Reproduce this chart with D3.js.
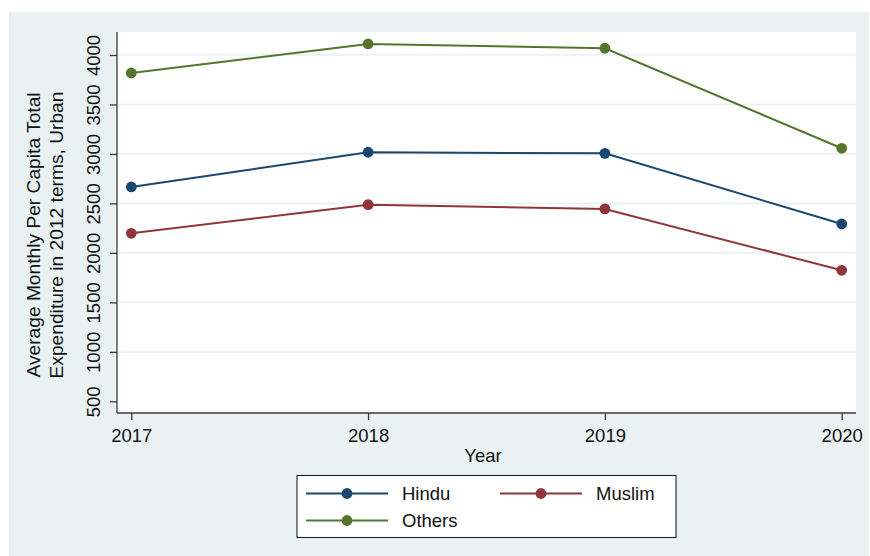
<!DOCTYPE html>
<html>
<head>
<meta charset="utf-8">
<script src="https://cdn.jsdelivr.net/npm/d3@7"></script>
<style>
  html, body { margin: 0; padding: 0; background: #ffffff; }
  svg { display: block; font-family: "Liberation Sans", Arial, sans-serif; }
</style>
</head>
<body>
<svg id="chart" width="870" height="556"></svg>
<script>
// Average monthly per capita expenditure (2012 terms), urban, by religion
const years = [2017, 2018, 2019, 2020];
const hindu = [2666, 3017, 3006, 2292];
const muslim = [2198, 2487, 2444, 1824];
const others = [3818, 4111, 4068, 3057];
const yTicks = [500, 1000, 1500, 2000, 2500, 3000, 3500, 4000];
const seriesNames = ["Hindu", "Muslim", "Others"];
const seriesColors = ["#1A476F", "#90353B", "#55752F"];

const series = [hindu, muslim, others].map((vals, i) => ({
  name: seriesNames[i],
  color: seriesColors[i],
  points: years.map((yr, j) => ({ year: yr, value: vals[j] }))
}));

const svg = d3.select("#chart");
const bg = "#EAF1F3";
const axisColor = "#3a3a3a";
const fontSize = 18.5;

// outer graph region
svg.append("rect").attr("x", 9).attr("y", 12).attr("width", 860).attr("height", 544).attr("fill", bg);

// plot region
const plot = { left: 117, right: 856, top: 32, bottom: 413 };
svg.append("rect")
  .attr("x", plot.left).attr("y", plot.top)
  .attr("width", plot.right - plot.left).attr("height", plot.bottom - plot.top)
  .attr("fill", "#ffffff");

const x = d3.scaleLinear().domain([2017, 2020]).range([131.3, 841.7]);
const y = d3.scaleLinear().domain([382, 4232]).range([plot.bottom, plot.top]);

// horizontal grid lines
svg.append("g").selectAll("line")
  .data(yTicks.filter(t => t !== 500))
  .join("line")
  .attr("x1", plot.left).attr("x2", plot.right)
  .attr("y1", d => y(d)).attr("y2", d => y(d))
  .attr("stroke", bg).attr("stroke-width", 1.7);

// y axis
const yAxis = svg.append("g")
  .attr("transform", `translate(${plot.left},0)`)
  .call(d3.axisLeft(y).tickValues(yTicks).tickSize(7).tickPadding(0).tickFormat(d3.format("d")));
yAxis.select(".domain").attr("stroke", axisColor).attr("stroke-width", 1.3)
  .attr("d", `M0,${plot.top}V${plot.bottom}`);
yAxis.selectAll(".tick line").attr("stroke", axisColor).attr("stroke-width", 1.3);
yAxis.selectAll(".tick text")
  .attr("font-size", fontSize).attr("fill", "#111")
  .attr("font-family", "Liberation Sans, Arial, sans-serif")
  .attr("text-anchor", "middle")
  .attr("x", 0).attr("dy", 0)
  .attr("transform", "translate(-17,0) rotate(-90)");

// x axis
const xAxis = svg.append("g")
  .attr("transform", `translate(0,${plot.bottom})`)
  .call(d3.axisBottom(x).tickValues(years).tickSize(7).tickPadding(9).tickFormat(d3.format("d")));
xAxis.select(".domain").attr("stroke", axisColor).attr("stroke-width", 1.3)
  .attr("d", `M${plot.left},0H${plot.right}`);
xAxis.selectAll(".tick line").attr("stroke", axisColor).attr("stroke-width", 1.3);
xAxis.selectAll(".tick text")
  .attr("font-size", fontSize).attr("fill", "#111")
  .attr("font-family", "Liberation Sans, Arial, sans-serif");

// axis titles
svg.append("text")
  .attr("x", 483).attr("y", 461.5)
  .attr("text-anchor", "middle").attr("font-size", fontSize).attr("fill", "#111")
  .text("Year");

const yTitle = svg.append("text")
  .attr("transform", "translate(40,235) rotate(-90)")
  .attr("text-anchor", "middle").attr("font-size", 19.2).attr("fill", "#111");
yTitle.append("tspan").attr("x", 0).attr("dy", 0).text("Average Monthly Per Capita Total");
yTitle.append("tspan").attr("x", 0).attr("dy", 22.5).text("Expenditure in 2012 terms, Urban");

// series lines and markers
const line = d3.line().x(d => x(d.year)).y(d => y(d.value));
const gSeries = svg.append("g");
series.slice().reverse().forEach(s => {
  gSeries.append("path")
    .datum(s.points)
    .attr("d", line)
    .attr("fill", "none")
    .attr("stroke", s.color)
    .attr("stroke-width", 2);
  gSeries.selectAll(null)
    .data(s.points)
    .join("circle")
    .attr("cx", d => x(d.year)).attr("cy", d => y(d.value))
    .attr("r", 5.4)
    .attr("fill", s.color);
});

// legend
const legend = svg.append("g");
legend.append("rect")
  .attr("x", 297).attr("y", 475.5).attr("width", 379).attr("height", 62)
  .attr("fill", "#ffffff").attr("stroke", "#222").attr("stroke-width", 1.1);

const legendPos = [
  { x: 306, y: 493.5 },
  { x: 500, y: 493.5 },
  { x: 306, y: 520.5 }
];
series.forEach((s, i) => {
  const p = legendPos[i];
  legend.append("line")
    .attr("x1", p.x).attr("x2", p.x + 82)
    .attr("y1", p.y).attr("y2", p.y)
    .attr("stroke", s.color).attr("stroke-width", 2);
  legend.append("circle")
    .attr("cx", p.x + 41).attr("cy", p.y).attr("r", 5.4).attr("fill", s.color);
  legend.append("text")
    .attr("x", p.x + 96).attr("y", p.y + 6.5)
    .attr("font-size", fontSize).attr("fill", "#111")
    .text(s.name);
});
</script>
</body>
</html>
